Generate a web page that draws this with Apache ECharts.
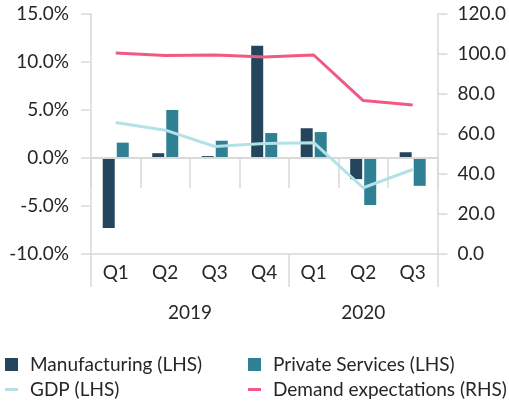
<!DOCTYPE html>
<html>
<head>
<meta charset="utf-8">
<script src="https://cdn.jsdelivr.net/npm/echarts@6/dist/echarts.min.js"></script>
<style>
  html, body { margin: 0; padding: 0; background: #fff; }
  #chart { width: 509px; height: 403px; }
</style>
</head>
<body>
<div id="chart"></div>
<script>
// categories
const quarters = ['Q1', 'Q2', 'Q3', 'Q4', 'Q1', 'Q2', 'Q3']
const years = ['2019', '2020']
const yearSpans = [4, 3]

// series values (LHS in %, RHS index)
const manufacturing = [-7.3, 0.5, 0.2, 11.7, 3.1, -2.2, 0.6]
const privateServices = [1.6, 5.0, 1.8, 2.6, 2.7, -4.9, -2.9]
const gdp = [3.7, 2.9, 1.2, 1.5, 1.6, -3.1, -1.2]
const demand = [100.5, 99.2, 99.5, 98.5, 99.5, 76.7, 74.5]

// year group boundaries and centres on the 0..7 band scale
const yearEdges = [0]
yearSpans.forEach(s => yearEdges.push(yearEdges[yearEdges.length - 1] + s))
const yearCentres = yearSpans.map((s, i) => yearEdges[i] + s / 2)

const font = 'Lato'
const grey = '#d9d9d9'
const txt = '#262626'

const chart = echarts.init(document.getElementById('chart'))

const legendItem = (name, left, top, icon, h) => ({
  data: [{ name: name, icon: icon }],
  left: left,
  top: top,
  itemWidth: 13,
  itemHeight: h,
  textStyle: { fontFamily: font, fontSize: 19, color: txt, padding: [0, 0, 0, 7] },
  selectedMode: false
})

chart.setOption({
  animation: false,
  textStyle: { fontFamily: font },
  grid: { left: 91, right: 69, top: 14, bottom: 149, containLabel: false },
  legend: [
    legendItem('Manufacturing (LHS)', 0, 350, 'rect', 13),
    legendItem('Private Services (LHS)', 243, 350, 'rect', 13),
    legendItem('GDP (LHS)', 0, 375, 'rect', 3),
    legendItem('Demand expectations (RHS)', 243, 375, 'rect', 3)
  ],
  xAxis: [
    {
      type: 'category',
      data: quarters,
      position: 'bottom',
      offset: 6,
      axisLine: { show: false },
      axisTick: { show: true, interval: 0, length: 30, lineStyle: { color: grey, width: 1.5 } },
      axisLabel: { interval: 0, margin: 3, fontSize: 19, color: txt, fontFamily: font }
    },
    {
      type: 'value',
      min: 0,
      max: 7,
      position: 'bottom',
      offset: 36,
      splitLine: { show: false },
      axisLine: { show: true, lineStyle: { color: grey, width: 1.5 } },
      axisTick: { show: true, customValues: yearEdges, length: 33, lineStyle: { color: grey, width: 1.5 } },
      axisLabel: {
        customValues: yearCentres,
        margin: 13,
        fontSize: 19,
        color: txt,
        fontFamily: font,
        formatter: v => years[yearCentres.indexOf(v)]
      }
    }
  ],
  yAxis: [
    {
      type: 'value',
      min: -10,
      max: 15,
      interval: 5,
      position: 'left',
      splitLine: { show: false },
      axisLine: { show: true, lineStyle: { color: grey, width: 1.5 } },
      axisTick: { show: true, length: 10, lineStyle: { color: grey, width: 1.5 } },
      axisLabel: { margin: 22, fontSize: 19, color: txt, fontFamily: font, formatter: v => v.toFixed(1) + '%' }
    },
    {
      type: 'value',
      min: 0,
      max: 120,
      interval: 20,
      position: 'right',
      splitLine: { show: false },
      axisLine: { show: true, lineStyle: { color: grey, width: 1.5 } },
      axisTick: { show: true, length: 10, lineStyle: { color: grey, width: 1.5 } },
      axisLabel: { margin: 20, fontSize: 19, color: txt, fontFamily: font, formatter: v => v.toFixed(1) }
    }
  ],
  series: [
    {
      name: 'Manufacturing (LHS)',
      type: 'bar',
      data: manufacturing,
      barWidth: 12,
      barGap: '17%',
      itemStyle: { color: '#23465c' },
      markLine: {
        silent: true,
        symbol: 'none',
        label: { show: false },
        lineStyle: { color: grey, width: 2, type: 'solid' },
        data: [{ yAxis: 0 }]
      }
    },
    {
      name: 'Private Services (LHS)',
      type: 'bar',
      data: privateServices,
      barWidth: 12,
      itemStyle: { color: '#2f8093' }
    },
    {
      name: 'GDP (LHS)',
      type: 'line',
      data: gdp,
      showSymbol: false,
      symbol: 'none',
      lineStyle: { color: '#b4e1e8', width: 3 },
      itemStyle: { color: '#b4e1e8' },
      z: 5
    },
    {
      name: 'Demand expectations (RHS)',
      type: 'line',
      yAxisIndex: 1,
      data: demand,
      showSymbol: false,
      symbol: 'none',
      lineStyle: { color: '#f05a82', width: 3 },
      itemStyle: { color: '#f05a82' },
      z: 5
    }
  ]
})
</script>
</body>
</html>
